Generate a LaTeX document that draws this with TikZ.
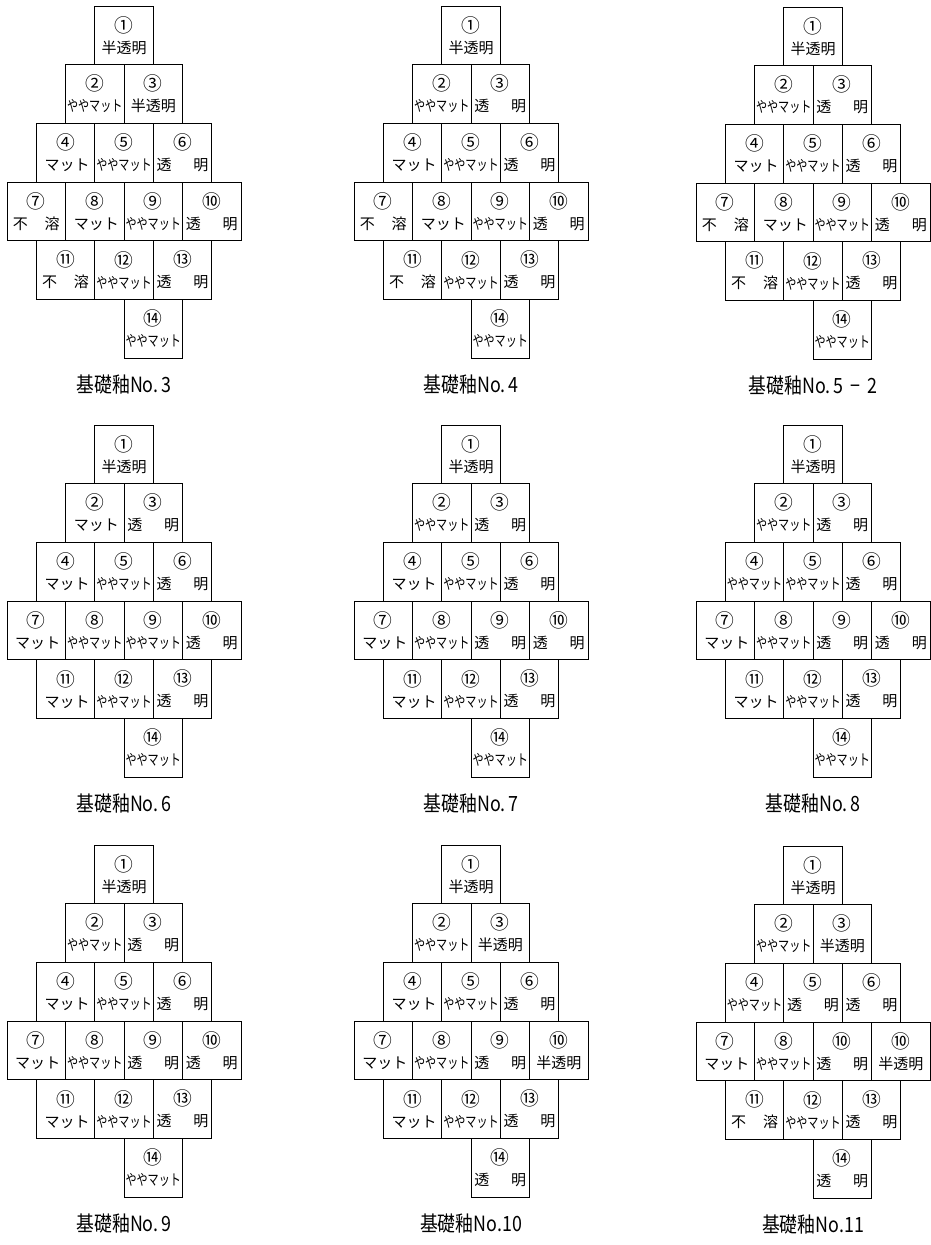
\documentclass[tikz,border=0pt]{standalone}
\usepackage{fontspec}
\usepackage{graphicx}
\setmainfont{Noto Sans CJK JP}
\usetikzlibrary{positioning}

% cell labels
\newcommand\hantomei{半透明}
\newcommand\tomei{\makebox[52pt][s]{透\hfill 明}}
\newcommand\matto{\makebox[42pt][s]{マ\hfill ッ\hfill ト}}
\newcommand\yaya{\scalebox{0.74}[1]{ややマット}}
\newcommand\fuyo{\makebox[47pt][s]{不\hfill 溶}}

% one set of 14 tiles: name, caption, number/label list
\newcommand\glazegrid[3]{%
  \foreach \num/\lab [count=\i] in {#3} {
    \pgfmathsetmacro\cx{{1.5,1,2,.5,1.5,2.5,0,1,2,3,.5,1.5,2.5,2}[\i-1]}
    \pgfmathsetmacro\cy{{0,1,1,2,2,2,3,3,3,3,4,4,4,5}[\i-1]}
    \node[tile] (#1-\i) at ({(\cx+.5)*58.5},{(\cy+.5)*58.7}) {\scalebox{1.25}{\num}\\\lab};
  }
  \node[caption] (#1-cap) at (117,379) {\scalebox{0.85}[1]{#2}};
}

\begin{document}
\begin{tikzpicture}[
    x=1pt, y=-1pt,
    tile/.style={draw, line width=0.9pt, minimum width=58.5pt, minimum height=58.7pt,
      inner sep=0pt, align=center, font=\fontsize{15}{21}\selectfont},
    caption/.style={font=\fontsize{21}{24}\selectfont}
]
\useasboundingbox (0,0) rectangle (931,1245);

% top row
\begin{scope}[shift={(7,6)}]
\glazegrid{n3}{基礎釉No.\,3}{①/\hantomei,②/\yaya,③/\hantomei,④/\matto,⑤/\yaya,⑥/\tomei,⑦/\fuyo,⑧/\matto,⑨/\yaya,⑩/\tomei,⑪/\fuyo,⑫/\yaya,⑬/\tomei,⑭/\yaya}
\end{scope}
\begin{scope}[shift={(354,6)}]
\glazegrid{n4}{基礎釉No.\,4}{①/\hantomei,②/\yaya,③/\tomei,④/\matto,⑤/\yaya,⑥/\tomei,⑦/\fuyo,⑧/\matto,⑨/\yaya,⑩/\tomei,⑪/\fuyo,⑫/\yaya,⑬/\tomei,⑭/\yaya}
\end{scope}
\begin{scope}[shift={(696,7)}]
\glazegrid{n52}{基礎釉No.\,5\, − \,2}{①/\hantomei,②/\yaya,③/\tomei,④/\matto,⑤/\yaya,⑥/\tomei,⑦/\fuyo,⑧/\matto,⑨/\yaya,⑩/\tomei,⑪/\fuyo,⑫/\yaya,⑬/\tomei,⑭/\yaya}
\end{scope}

% middle row
\begin{scope}[shift={(7,425)}]
\glazegrid{n6}{基礎釉No.\,6}{①/\hantomei,②/\matto,③/\tomei,④/\matto,⑤/\yaya,⑥/\tomei,⑦/\matto,⑧/\yaya,⑨/\yaya,⑩/\tomei,⑪/\matto,⑫/\yaya,⑬/\tomei,⑭/\yaya}
\end{scope}
\begin{scope}[shift={(354,425)}]
\glazegrid{n7}{基礎釉No.\,7}{①/\hantomei,②/\yaya,③/\tomei,④/\matto,⑤/\yaya,⑥/\tomei,⑦/\matto,⑧/\yaya,⑨/\tomei,⑩/\tomei,⑪/\matto,⑫/\yaya,⑬/\tomei,⑭/\yaya}
\end{scope}
\begin{scope}[shift={(696,425)}]
\glazegrid{n8}{基礎釉No.\,8}{①/\hantomei,②/\yaya,③/\tomei,④/\yaya,⑤/\yaya,⑥/\tomei,⑦/\matto,⑧/\yaya,⑨/\tomei,⑩/\tomei,⑪/\matto,⑫/\yaya,⑬/\tomei,⑭/\yaya}
\end{scope}

% bottom row
\begin{scope}[shift={(7,845)}]
\glazegrid{n9}{基礎釉No.\,9}{①/\hantomei,②/\yaya,③/\tomei,④/\matto,⑤/\yaya,⑥/\tomei,⑦/\matto,⑧/\yaya,⑨/\tomei,⑩/\tomei,⑪/\matto,⑫/\yaya,⑬/\tomei,⑭/\yaya}
\end{scope}
\begin{scope}[shift={(354,845)}]
\glazegrid{n10}{基礎釉No.10}{①/\hantomei,②/\yaya,③/\hantomei,④/\matto,⑤/\yaya,⑥/\tomei,⑦/\matto,⑧/\yaya,⑨/\tomei,⑩/\hantomei,⑪/\matto,⑫/\yaya,⑬/\tomei,⑭/\tomei}
\end{scope}
\begin{scope}[shift={(696,846)}]
\glazegrid{n11}{基礎釉No.11}{①/\hantomei,②/\yaya,③/\hantomei,④/\yaya,⑤/\tomei,⑥/\tomei,⑦/\matto,⑧/\yaya,⑩/\tomei,⑩/\hantomei,⑪/\fuyo,⑫/\yaya,⑬/\tomei,⑭/\tomei}
\end{scope}
\end{tikzpicture}
\end{document}
